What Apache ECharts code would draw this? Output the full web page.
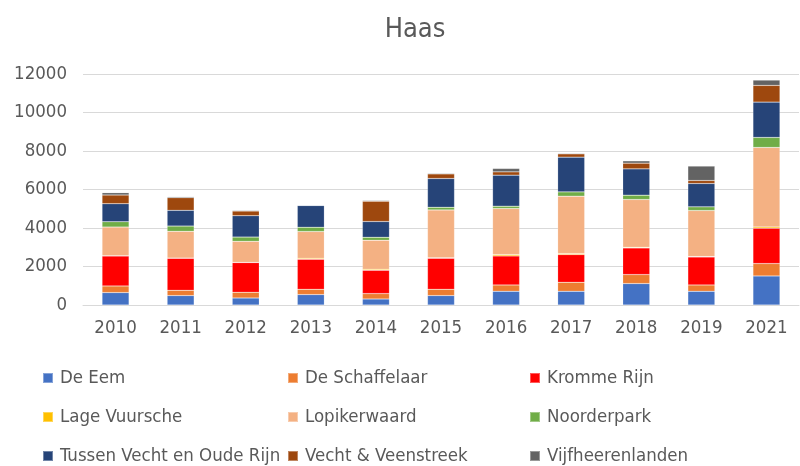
<!DOCTYPE html>
<html>
<head>
<meta charset="utf-8">
<script src="https://cdn.jsdelivr.net/npm/echarts@6/dist/echarts.min.js"></script>
<style>
  html, body { margin: 0; padding: 0; background: #fff; }
  #chart { width: 800px; height: 466px; }
</style>
</head>
<body>
<div id="chart"></div>
<script>
const years = ['2010', '2011', '2012', '2013', '2014', '2015', '2016', '2017', '2018', '2019', '2021']

const deEem        = [645, 489, 364, 541, 312, 489, 712, 712, 1113, 712, 1508]
const deSchaffel   = [343, 275, 296, 275, 281, 327, 328, 468, 468, 328, 645]
const krommeRijn   = [1560, 1664, 1545, 1560, 1211, 1612, 1508, 1440, 1383, 1456, 1835]
const lageVuursche = [10, 10, 10, 50, 52, 30, 72, 53, 36, 20, 68]
const lopikerwaard = [1492, 1389, 1092, 1391, 1508, 2480, 2393, 2979, 2481, 2392, 4129]
const noorderpark  = [276, 275, 223, 223, 156, 140, 119, 224, 223, 192, 520]
const tussenVecht  = [936, 817, 1108, 1129, 817, 1493, 1612, 1804, 1368, 1212, 1835]
const vechtVeen    = [452, 655, 244, 10, 1055, 239, 172, 172, 296, 156, 869]
const vijfheeren   = [120, 52, 37, 10, 38, 38, 177, 36, 120, 749, 275]

const seriesDefs = [
  ['De Eem', deEem, '#4472C4'],
  ['De Schaffelaar', deSchaffel, '#ED7D31'],
  ['Kromme Rijn', krommeRijn, '#FF0000'],
  ['Lage Vuursche', lageVuursche, '#FFC000'],
  ['Lopikerwaard', lopikerwaard, '#F4B183'],
  ['Noorderpark', noorderpark, '#70AD47'],
  ['Tussen Vecht en Oude Rijn', tussenVecht, '#264478'],
  ['Vecht & Veenstreek', vechtVeen, '#9E480E'],
  ['Vijfheerenlanden', vijfheeren, '#636363']
]

const font = "'Liberation Sans Narrow', 'DejaVu Sans Condensed', 'Noto Sans', sans-serif"
const textGray = '#595959'

const chart = echarts.init(document.getElementById('chart'))

const series = seriesDefs.map(d => ({
  name: d[0],
  type: 'bar',
  stack: 'total',
  barWidth: 27,
  data: d[1],
  itemStyle: { color: d[2], borderColor: 'rgba(255,255,255,0.35)', borderWidth: 0.5 }
}))

// one vertical legend per column, like the 3-column excel legend
function legendCol(names, left) {
  return {
    orient: 'vertical',
    left: left,
    top: 368,
    height: 120,
    padding: 0,
    itemWidth: 10,
    itemHeight: 10,
    itemGap: 19,
    icon: 'rect',
    data: names,
    selectedMode: false,
    textStyle: { fontFamily: font, fontSize: 18.5, lineHeight: 20, color: textGray, padding: [0, 0, 0, 2] }
  }
}

const option = {
  animation: false,
  title: {
    text: 'Haas',
    left: 410,
    top: 11,
    textAlign: 'center',
    textStyle: { fontFamily: font, fontSize: 27, fontWeight: 'normal', color: textGray }
  },
  legend: [
    legendCol(['De Eem', 'Lage Vuursche', 'Tussen Vecht en Oude Rijn'], 42),
    legendCol(['De Schaffelaar', 'Lopikerwaard', 'Vecht & Veenstreek'], 287),
    legendCol(['Kromme Rijn', 'Noorderpark', 'Vijfheerenlanden'], 529)
  ],
  grid: { left: 83, right: 1, top: 74, height: 231, containLabel: false },
  xAxis: {
    type: 'category',
    data: years,
    axisTick: { show: false },
    axisLine: { lineStyle: { color: '#D9D9D9', width: 1 } },
    axisLabel: { fontFamily: font, fontSize: 18.5, color: textGray, margin: 14 }
  },
  yAxis: {
    type: 'value',
    min: 0,
    max: 12000,
    interval: 2000,
    axisLabel: { fontFamily: font, fontSize: 18.5, color: textGray, margin: 16, formatter: v => String(v) },
    splitLine: { lineStyle: { color: '#D9D9D9', width: 1 } }
  },
  series: series
}

chart.setOption(option)
</script>
</body>
</html>
